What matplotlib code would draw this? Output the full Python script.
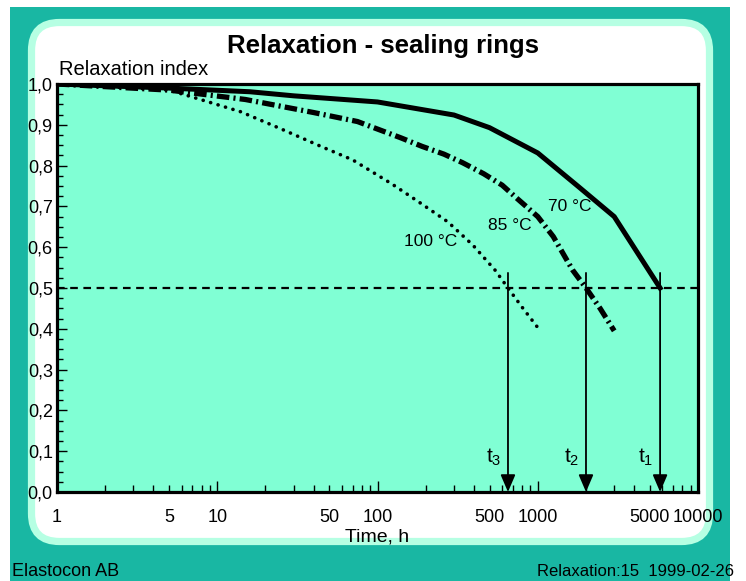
import matplotlib
matplotlib.use("Agg")
import matplotlib.pyplot as plt
from matplotlib.patches import FancyBboxPatch
from matplotlib.transforms import IdentityTransform
import numpy as np

plt.rcParams['font.family'] = ['Liberation Sans', 'DejaVu Sans']
plt.rcParams['mathtext.fontset'] = 'custom'
plt.rcParams['mathtext.rm'] = 'Liberation Sans'
plt.rcParams['mathtext.it'] = 'Liberation Sans'
plt.rcParams['lines.scale_dashes'] = False

# data (time in h, relaxation index)
t70 = [1, 5, 16, 30, 100, 300, 500, 1000, 1800, 3000, 5800]
r70 = [1.0, 0.99, 0.981, 0.971, 0.956, 0.924, 0.893, 0.831, 0.748, 0.675, 0.50]

t85 = [1, 5, 15, 40, 75, 140, 190, 260, 340, 460, 600, 740, 1000, 1250, 1650, 2000, 2450, 3000]
r85 = [1.0, 0.985, 0.962, 0.930, 0.908, 0.868, 0.847, 0.828, 0.807, 0.780, 0.752, 0.72,
       0.675, 0.626, 0.544, 0.50, 0.45, 0.395]

t100 = [1, 5, 7, 14, 25, 45, 70, 123, 184, 275, 394, 541, 652, 795, 1000]
r100 = [1.0, 0.985, 0.968, 0.932, 0.89, 0.846, 0.814, 0.755, 0.709, 0.662, 0.605, 0.544,
        0.50, 0.454, 0.403]

# times where index = 0.5
t_half = [652, 2000, 5800]
t_names = [r'$\mathrm{t}_{3}$', r'$\mathrm{t}_{2}$', r'$\mathrm{t}_{1}$']

curve_labels = ['70 °C', '85 °C', '100 °C']
label_pos = [(1159, 0.699), (490, 0.654), (146, 0.613)]

x_major = [1, 10, 100, 1000, 10000]
x_major_labels = ['1', '10', '100', '1000', '10000']
y_ticks = np.round(np.arange(0, 1.01, 0.1), 1)
y_labels = [('%.1f' % v).replace('.', ',') for v in y_ticks]

TEAL = '#19b7a3'
MINT = '#b6ffe3'
PLOTBG = '#80ffd4'

fig = plt.figure(figsize=(7.46, 5.81), dpi=100)
fig.patch.set_facecolor('white')

# background: teal frame and white rounded panel (pixel coords)
fig.patches.append(plt.Rectangle((10, 0), 720, 574, transform=IdentityTransform(),
                                 facecolor=TEAL, edgecolor='none', zorder=-2))
fig.patches.append(FancyBboxPatch((31.5, 39.5), 678, 519, boxstyle='round,pad=0,rounding_size=28',
                                  transform=IdentityTransform(), facecolor='white',
                                  edgecolor=MINT, linewidth=5.2, zorder=-1))

ax = fig.add_axes([57 / 746, 89 / 581, 641 / 746, 408 / 581])
ax.set_zorder(2)
ax.set_facecolor(PLOTBG)
ax.set_xscale('log')
ax.set_xlim(1, 10000)
ax.set_ylim(0, 1.0)

# curves
ax.plot(t70, r70, color='black', lw=3.6, solid_joinstyle='miter', zorder=3)
ax.plot(t85, r85, color='black', lw=3.8, ls=(0, (9, 3, 1.5, 3)), dash_capstyle='butt', zorder=3)
ax.plot(t100, r100, color='black', lw=2.6, ls=(0, (0.1, 5.5)), dash_capstyle='round', zorder=3)

ax.axhline(0.5, color='black', lw=1.6, ls=(0, (5.5, 4)), zorder=2)

for tx, name in zip(t_half, t_names):
    ax.annotate('', xy=(tx, 0), xytext=(tx, 0.537),
                arrowprops=dict(arrowstyle='-|>,head_length=1.05,head_width=0.45',
                                color='black', lw=1.3, shrinkA=0, shrinkB=0), zorder=4)
    ax.text(tx / 1.1, 0.085, name, ha='right', va='center', fontsize=15)

for lab, (lx, ly) in zip(curve_labels, label_pos):
    ax.text(lx, ly, lab, ha='left', va='center', fontsize=12.5)

# ticks
minor = []
minor_labels = []
for dec in [1, 10, 100, 1000]:
    for m in range(2, 10):
        minor.append(dec * m)
        minor_labels.append(str(dec * m) if m == 5 else '')
ax.set_xticks(x_major, x_major_labels)
ax.set_xticks(minor, minor_labels, minor=True)
ax.set_yticks(y_ticks, y_labels)
ax.set_yticks(np.arange(0, 1.0, 0.025), minor=True)
ax.tick_params(axis='x', which='both', direction='in', pad=12, labelsize=13)
ax.tick_params(axis='x', which='major', length=8, width=1)
ax.tick_params(axis='x', which='minor', length=5, width=1)
ax.tick_params(axis='y', which='both', direction='in', pad=3, labelsize=13)
ax.tick_params(axis='y', which='major', length=7, width=1)
ax.tick_params(axis='y', which='minor', length=4, width=1)

for sp in ax.spines.values():
    sp.set_linewidth(2.3)
    sp.set_zorder(5)

# texts
fig.text(383 / 746, 1 - 46 / 581, 'Relaxation - sealing rings', ha='center', va='center',
         fontsize=18.5, fontweight='bold')
fig.text(59 / 746, 1 - 70 / 581, 'Relaxation index', ha='left', va='center', fontsize=14.5)
fig.text(377 / 746, 1 - 537 / 581, 'Time, h', ha='center', va='center', fontsize=14)
fig.text(12 / 746, 1 - 572 / 581, 'Elastocon AB', ha='left', va='center', fontsize=13)
fig.text(734 / 746, 1 - 572 / 581, 'Relaxation:15  1999-02-26', ha='right', va='center', fontsize=12)

fig.savefig('out.png', dpi=100)
